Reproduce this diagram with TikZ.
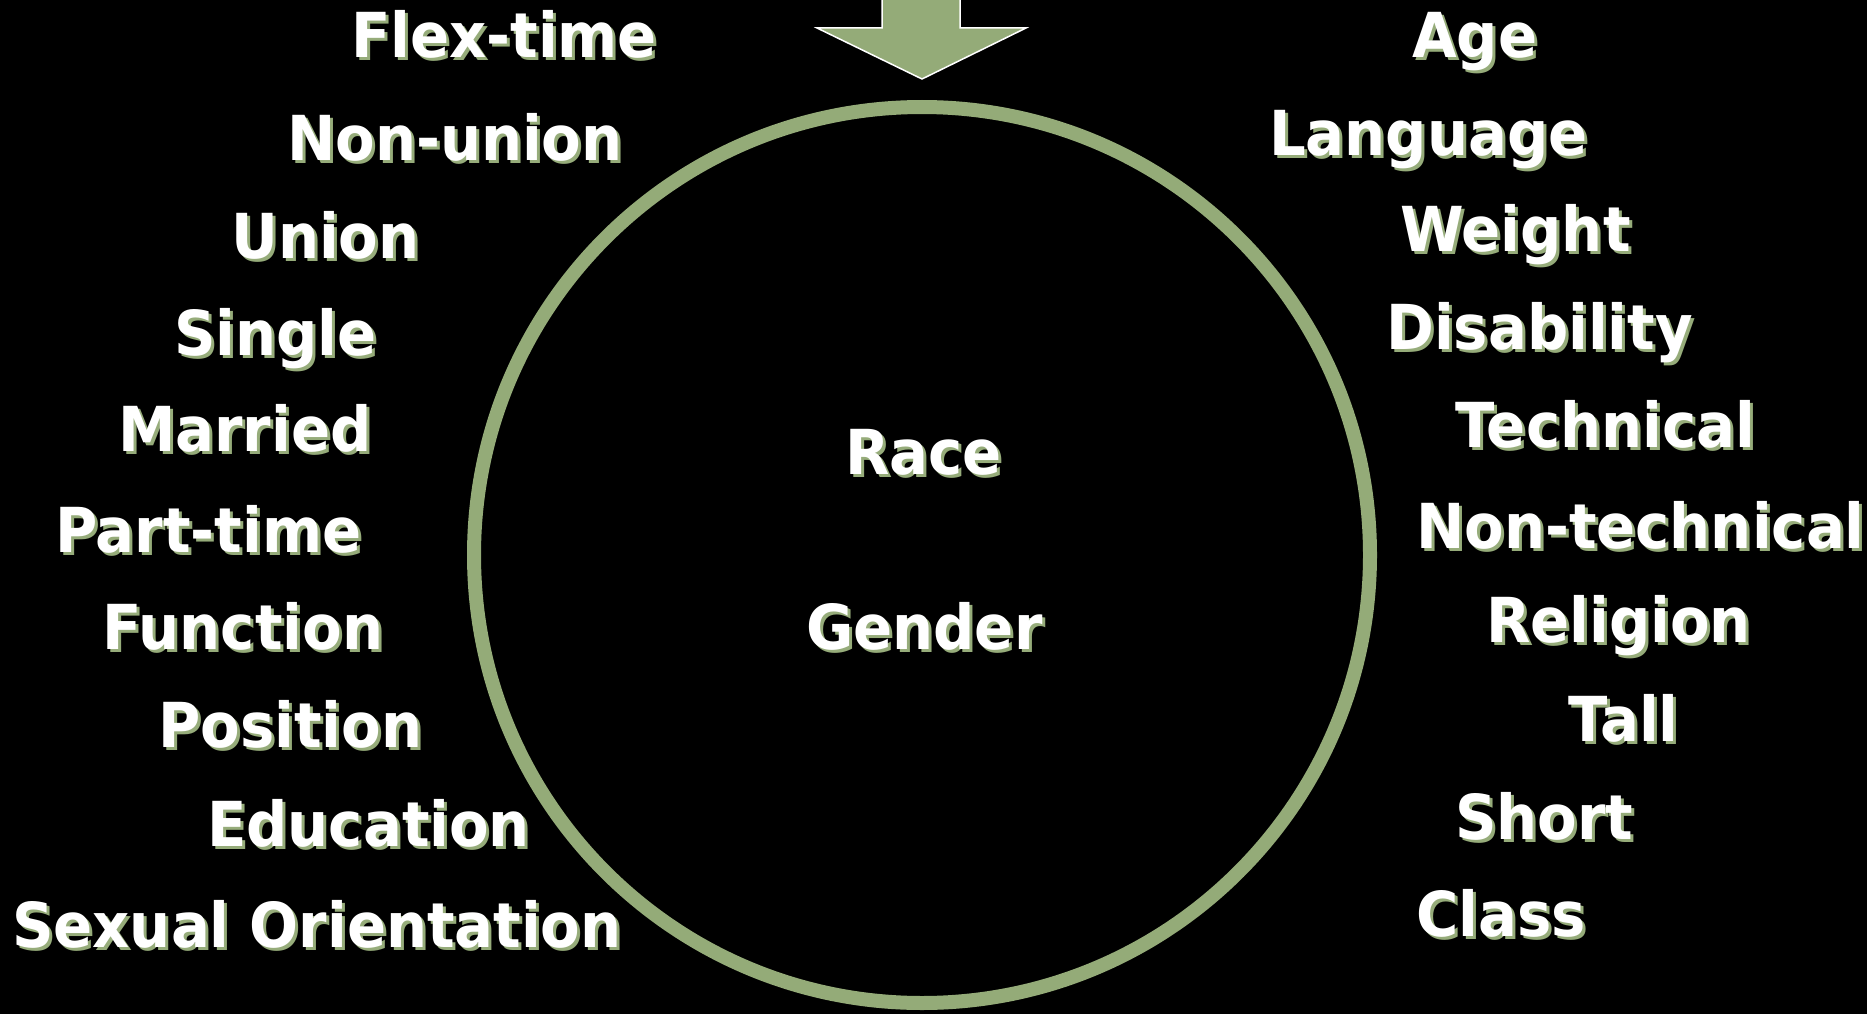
\documentclass[tikz,border=0pt]{standalone}
\usepackage{fontspec}
\newfontfamily\lab{DejaVu Sans}[FakeStretch=0.93]
\definecolor{sage}{RGB}{148,171,120}
\definecolor{shade}{RGB}{150,172,122}
\tikzset{
  lbl/.style={text=white,font=\lab\bfseries\fontsize{62}{70}\selectfont,inner sep=0pt,anchor=base west},
  lblsh/.style={lbl,text=shade},
}
\newcommand\shtext[4]{%
  \node[lblsh] (#1-s) at (#2+3,#3+3) {#4};
  \node[lbl] (#1) at (#2,#3) {#4};
}
\begin{document}
\begin{tikzpicture}[x=1pt,y=-1pt]
\fill[black] (0,0) rectangle (1867,1014);
\useasboundingbox (0,0) rectangle (1867,1014);
% circle
\draw[sage,line width=14pt] (922,555) circle[radius=448];
% arrow
\draw[fill=sage,draw=white,line width=1.5pt,line join=miter]
  (882,-5) -- (960,-5) -- (960,28) -- (1026,28) -- (922,79) -- (817,28) -- (882,28) -- cycle;
% left column
\shtext{flex}{351}{58}{Flex-time}
\shtext{nonunion}{287}{160}{Non-union}
\shtext{union}{231}{258}{Union}
\shtext{single}{174}{355}{Single}
\shtext{married}{118}{451}{Married}
\shtext{parttime}{55}{552}{Part-time}
\shtext{function}{102}{649}{Function}
\shtext{position}{158}{747}{Position}
\shtext{education}{207}{846}{Education}
\shtext{sexor}{12}{947}{Sexual Orientation}
% right column
\shtext{age}{1412}{58}{Age}
\shtext{language}{1269}{155}{Language}
\shtext{weight}{1400}{251}{Weight}
\shtext{disability}{1386}{349}{Disability}
\shtext{technical}{1455}{447}{Technical}
\shtext{nontech}{1416}{548}{Non-technical}
\shtext{religion}{1486}{642}{Religion}
\shtext{tall}{1568}{741}{Tall}
\shtext{short}{1455}{839}{Short}
\shtext{class}{1416}{936}{Class}
% center
\shtext{race}{845}{474}{Race}
\shtext{gender}{806}{649}{Gender}
\end{tikzpicture}
\end{document}
